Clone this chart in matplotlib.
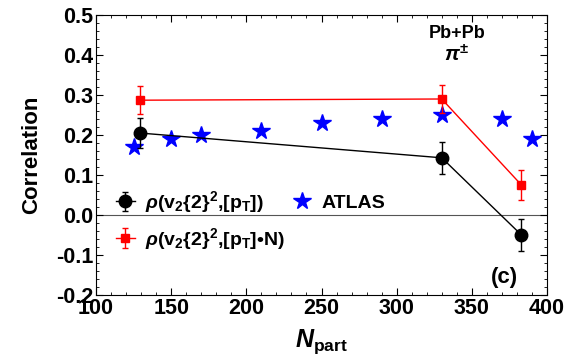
import numpy as np
import matplotlib.pyplot as plt
from matplotlib.ticker import MultipleLocator

plt.rcParams['font.family'] = ['Liberation Sans', 'DejaVu Sans']
plt.rcParams['mathtext.fontset'] = 'custom'
plt.rcParams['mathtext.rm'] = 'Liberation Sans:bold'
plt.rcParams['mathtext.it'] = 'Liberation Sans:bold:italic'
plt.rcParams['mathtext.bf'] = 'Liberation Sans:bold'

# model: rho(v2{2}^2,[pT])
npart_m = [129, 330, 383]
rho_pt = [0.205, 0.143, -0.05]
rho_pt_err = [0.037, 0.04, 0.04]
# model: rho(v2{2}^2,[pT]*N)
rho_ptn = [0.287, 0.29, 0.075]
rho_ptn_err = [0.035, 0.035, 0.038]
# ATLAS data
npart_atlas = [125, 150, 170, 210, 250, 290, 330, 370, 390]
rho_atlas = [0.17, 0.19, 0.20, 0.21, 0.23, 0.24, 0.25, 0.24, 0.19]

fig = plt.figure(figsize=(5.79, 3.62), dpi=100)
ax = fig.add_axes([96/579, 1-295/362, (547-96)/579, (295-15)/362])

ax.axhline(0, color='#555555', lw=0.8, zorder=1)

h1 = ax.errorbar(npart_m, rho_pt, yerr=rho_pt_err, color='black', marker='o',
                 ms=9, lw=1, capsize=2, elinewidth=1, zorder=3)
h2 = ax.errorbar(npart_m, rho_ptn, yerr=rho_ptn_err, color='red', marker='s',
                 ms=6, lw=1, capsize=2, elinewidth=1, zorder=3)
h3, = ax.plot(npart_atlas, rho_atlas, ls='none', marker='*', ms=13,
              color='blue', zorder=2)

ax.set_xlim(100, 400)
ax.set_ylim(-0.2, 0.5)
ax.xaxis.set_major_locator(MultipleLocator(50))
ax.xaxis.set_minor_locator(MultipleLocator(10))
ax.yaxis.set_major_locator(MultipleLocator(0.1))
ax.yaxis.set_minor_locator(MultipleLocator(0.02))
ax.tick_params(which='both', direction='in', top=True, right=True)
ax.tick_params(which='major', length=5, labelsize=15.5, pad=2)
ax.tick_params(which='minor', length=2.5)
for lab in ax.get_xticklabels() + ax.get_yticklabels():
    lab.set_fontweight('bold')
ax.yaxis.set_major_formatter(plt.FuncFormatter(lambda v, p: '%.1f' % v))

ax.set_ylabel('Correlation', fontsize=16, fontweight='bold', labelpad=10)
ax.set_xlabel(r'$\mathit{N}_{\mathrm{part}}$', fontsize=18, labelpad=6)

ax.legend([h1, h2, h3],
          [r'$\mathit{\rho}$(v$_2${2}$^2$,[p$_\mathrm{T}$])',
           r'$\mathit{\rho}$(v$_2${2}$^2$,[p$_\mathrm{T}$]•N)',
           'ATLAS'],
          ncol=2, frameon=False, loc='upper left', bbox_to_anchor=(0.005, 0.44),
          prop={'size': 14, 'weight': 'bold'}, handlelength=1.0,
          handletextpad=0.5, columnspacing=0.4, labelspacing=0.55)

ax.text(340, 0.455, 'Pb+Pb', ha='center', va='center', fontsize=13, fontweight='bold')
ax.text(340, 0.40, r'$\mathit{\pi}^{\pm}$', ha='center', va='center', fontsize=15)
ax.text(372, -0.155, '(c)', ha='center', va='center', fontsize=16, fontweight='bold')

plt.savefig('out.png', dpi=100)
